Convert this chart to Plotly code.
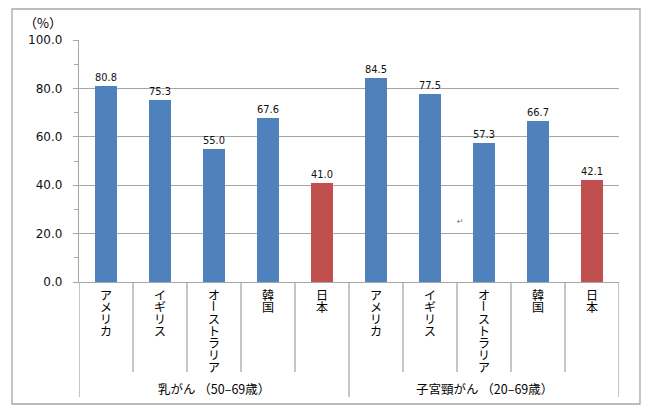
import plotly.graph_objects as go

# ---- data ----
groups = ["乳がん （50–69歳）", "子宮頸がん （20–69歳）"]
countries = ["アメリカ", "イギリス", "オーストラリア", "韓国", "日本"]
breast = [80.8, 75.3, 55.0, 67.6, 41.0]
cervical = [84.5, 77.5, 57.3, 66.7, 42.1]
y_ticks = [0, 20, 40, 60, 80, 100]
y_unit = "（%）"

BLUE = "#4F81BD"
RED = "#C0504D"
GRID = "#A6A6A6"

values = breast + cervical
cats = countries + countries
xpos = list(range(len(values)))
colors = [RED if c == "日本" else BLUE for c in cats]

OFF = 8  # page body margin in the browser
W, H = 650 - OFF, 413 - OFF
L, R, T, B = 79 - OFF, 619 - OFF, 40 - OFF, 282 - OFF  # plot area in pixels
pw, ph = R - L, B - T

def px_x(px):
    return (px - OFF - L) / pw

def px_y(py):
    return (B - (py - OFF)) / ph

fig = go.Figure()
fig.add_trace(go.Bar(
    x=xpos, y=values, width=0.39,
    marker=dict(color=colors, line=dict(width=0)),
    text=[f"{v:.1f}" for v in values], textposition="outside",
    textfont=dict(family="DejaVu Sans", size=13, color="#111"),
    cliponaxis=False, hoverinfo="skip",
))

shapes = []
# outer border
shapes.append(dict(type="rect", xref="paper", yref="paper",
                   x0=px_x(12), x1=px_x(640), y0=px_y(404), y1=px_y(9),
                   line=dict(color=GRID, width=1.3), layer="below"))
# category dividers
n = len(values)
for k in range(n + 1):
    is_group = k % len(countries) == 0
    shapes.append(dict(type="line", xref="x", yref="paper",
                       x0=k - 0.5, x1=k - 0.5, y0=0,
                       y1=px_y(397) if is_group else px_y(372),
                       line=dict(color=GRID, width=1.3)))

annotations = []
# vertical category labels (one character per line)
for i, name in enumerate(cats):
    for j, ch in enumerate(name):
        a = dict(x=i, y=0, xref="x", yref="paper", text=ch, showarrow=False,
                 yanchor="middle", xanchor="center", yshift=-(12 + 12 * j),
                 font=dict(family="Noto Sans CJK JP", size=12, color="#000"))
        if ch == "ー":
            a["textangle"] = 90
        annotations.append(a)
# group labels
for g, name in enumerate(groups):
    annotations.append(dict(x=g * len(countries) + (len(countries) - 1) / 2, y=px_y(388),
                            xref="x", yref="paper", text=name, showarrow=False,
                            yanchor="middle", xanchor="center",
                            font=dict(family="Noto Sans CJK JP", size=12.5, color="#000")))
# unit label
annotations.append(dict(x=px_x(43), y=px_y(22), xref="paper", yref="paper",
                        text=y_unit, showarrow=False, xanchor="center", yanchor="middle",
                        font=dict(family="Noto Sans CJK JP", size=13, color="#000")))
# stray paragraph mark seen in the source
annotations.append(dict(x=6.57, y=24.8, xref="x", yref="y", text="↵", showarrow=False,
                        font=dict(family="DejaVu Sans", size=8, color="#777")))

fig.update_layout(
    width=W, height=H,
    margin=dict(l=L, r=W - R, t=T, b=H - B, pad=0),
    paper_bgcolor="white", plot_bgcolor="white",
    showlegend=False, bargap=0,
    shapes=shapes, annotations=annotations,
    xaxis=dict(range=[-0.5, n - 0.5], showticklabels=False, ticks="",
               showgrid=False, zeroline=False, showline=True,
               linecolor=GRID, linewidth=1.3, fixedrange=True),
    yaxis=dict(range=[0, 100], tickvals=y_ticks,
               ticktext=[f"{v:.1f}" for v in y_ticks],
               ticks="outside", ticklen=5, tickcolor=GRID, tickwidth=1.3,
               minor=dict(dtick=10, ticks="outside", ticklen=4, tickcolor=GRID, showgrid=False),
               showgrid=True, gridcolor=GRID, gridwidth=1.3,
               zeroline=False, showline=True, linecolor=GRID, linewidth=1.3,
               tickfont=dict(family="DejaVu Sans", size=12, color="#111"),
               ticklabelstandoff=8, fixedrange=True),
)

fig.write_html("out.html")
